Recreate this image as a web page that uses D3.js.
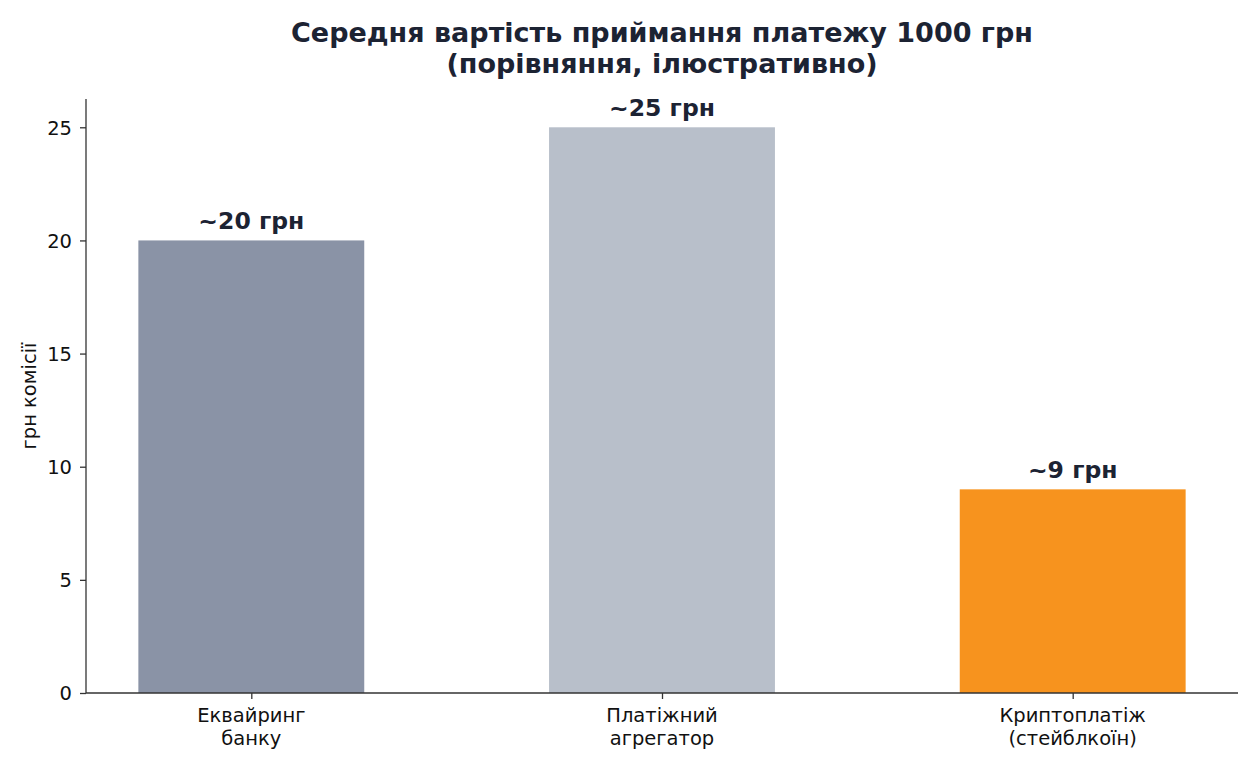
<!DOCTYPE html>
<html><head><meta charset="utf-8">
<script src="https://cdn.jsdelivr.net/npm/d3@7"></script>
<style>body{margin:0;background:#fff}svg{display:block}text{font-family:"DejaVu Sans",sans-serif}</style>
</head><body>
<svg id="chart" width="1260" height="770"></svg>
<script>
const categories = [["Еквайринг","банку"],["Платіжний","агрегатор"],["Криптоплатіж","(стейблкоїн)"]];
const values = [20, 25, 9];
const valueLabels = ["~20 грн","~25 грн","~9 грн"];
const colors = ["#8a93a6","#b8bfca","#f7931e"];
const yTicks = [0,5,10,15,20,25];
const titleLines = ["Середня вартість приймання платежу 1000 грн","(порівняння, ілюстративно)"];

const svg = d3.select("#chart");
const L = 86, R = 1238, T = 99, B = 693;
const barW = 0.55;
const x = d3.scaleLinear().domain([-0.4025, 2.4025]).range([L, R]);
const y = d3.scaleLinear().domain([0, 26.25]).range([B, T]);
const ink = "#1c2333";

svg.selectAll("rect.bar").data(values).join("rect").attr("class","bar")
  .attr("x",(d,i)=>x(i-barW/2)).attr("width",(d,i)=>x(i+barW/2)-x(i-barW/2))
  .attr("y",d=>y(d)).attr("height",d=>y(0)-y(d)).attr("fill",(d,i)=>colors[i]);

svg.selectAll("text.val").data(values).join("text").attr("class","val")
  .attr("x",(d,i)=>x(i)).attr("y",d=>y(d)-11).attr("text-anchor","middle")
  .attr("font-size",23.5).attr("font-weight","bold").attr("fill",ink)
  .text((d,i)=>valueLabels[i]);

const yAxis = svg.append("g").attr("transform",`translate(${L},0)`)
  .call(d3.axisLeft(y).tickValues(yTicks).tickSize(6).tickPadding(8));
yAxis.select(".domain").attr("d",`M0,${B}V${T}`);
const xAxis = svg.append("g").attr("transform",`translate(0,${B})`)
  .call(d3.axisBottom(x).tickValues([0,1,2]).tickSize(6).tickFormat(""));
xAxis.select(".domain").attr("d",`M${L},0H${R}`);
[yAxis,xAxis].forEach(g=>{
  g.selectAll("path,line").attr("stroke","#333").attr("stroke-width",1.3);
  g.selectAll("text").attr("font-size",19.5).attr("fill","#111").attr("font-family","DejaVu Sans");
});
yAxis.selectAll("text").attr("dy","0.35em");

const cat = svg.selectAll("text.cat").data(categories).join("text").attr("class","cat")
  .attr("text-anchor","middle").attr("font-size",19.5).attr("fill","#111");
cat.each(function(d,i){
  d3.select(this).selectAll("tspan").data(d).join("tspan")
    .attr("x",x(i)).attr("y",(t,j)=>B+29+j*22.5).text(t=>t);
});

svg.append("text").attr("transform",`translate(36,${(T+B)/2}) rotate(-90)`)
  .attr("text-anchor","middle").attr("font-size",19.5).attr("fill","#111").text("грн комісії");

svg.selectAll("text.title").data(titleLines).join("text").attr("class","title")
  .attr("x",662).attr("y",(d,i)=>42+i*31).attr("text-anchor","middle")
  .attr("font-size",27).attr("font-weight","bold").attr("fill",ink).text(d=>d);
</script>
</body></html>
